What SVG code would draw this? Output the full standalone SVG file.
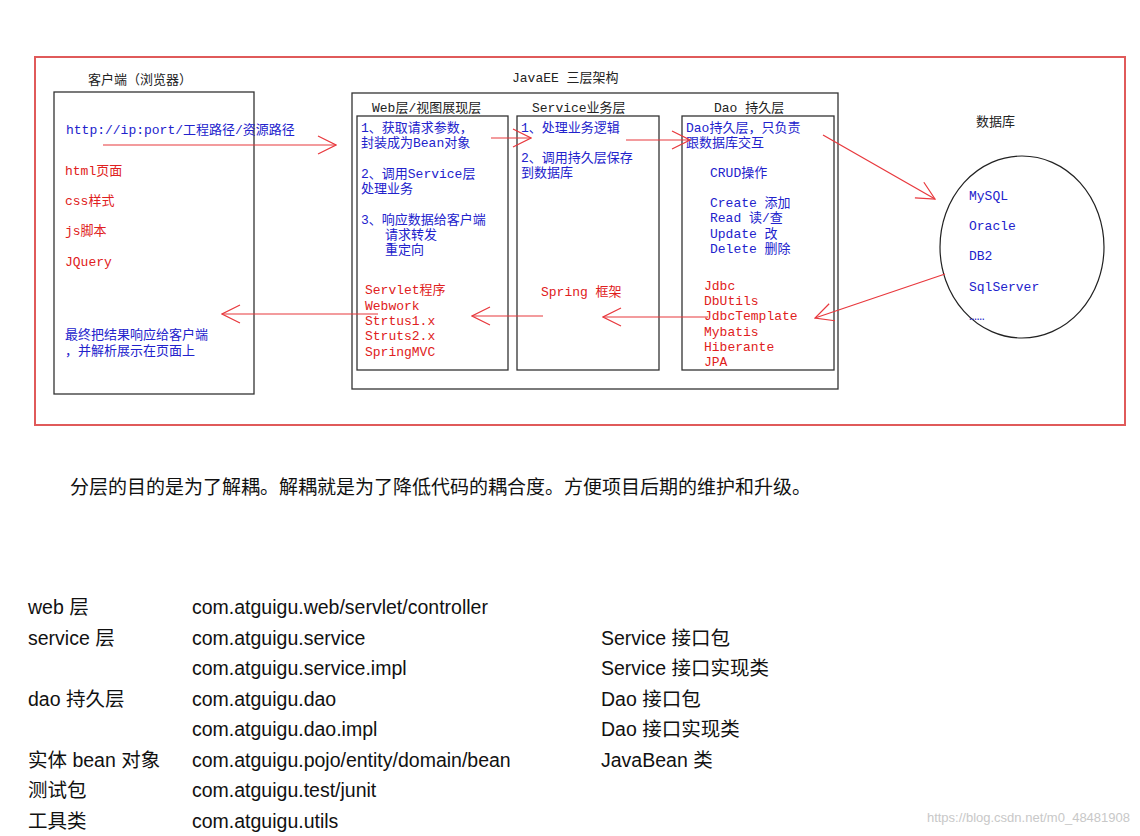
<svg xmlns="http://www.w3.org/2000/svg" width="1140" height="836" viewBox="0 0 1140 836">
<defs>
<marker id="chev" viewBox="0 0 20 20" refX="19" refY="10" markerWidth="20" markerHeight="20" markerUnits="userSpaceOnUse" orient="auto">
<path d="M1,1 L19,10 L1,19" fill="none" stroke="#e8383d" stroke-width="1.2"/>
</marker>
</defs>
<style>
.box{fill:none;stroke:#333;stroke-width:1.3}
.t{font-family:"Liberation Mono","Noto Sans CJK SC",monospace;font-size:13px}
.b{fill:#2222cc}.r{fill:#e02020}.k{fill:#222}
.c{stroke:#e8383d;stroke-width:1.2;fill:none;marker-end:url(#chev)}
.p{font-family:"Liberation Sans","Noto Sans CJK SC",sans-serif;font-size:19.5px;fill:#111}
</style>
<rect width="1140" height="836" fill="#fff"/>
<rect x="35" y="57" width="1090" height="368" fill="none" stroke="#e05a5a" stroke-width="2"/>
<g id="client">
<text x="88" y="84" class="t k">客户端（浏览器）</text>
<rect x="54" y="92" width="200" height="302" class="box"/>
<text x="66" y="134" class="t b">http://ip:port/工程路径/资源路径</text>
<text x="65" y="175" class="t r">html页面</text>
<text x="65" y="205" class="t r">css样式</text>
<text x="65" y="235" class="t r">js脚本</text>
<text x="65" y="266" class="t r">JQuery</text>
<text x="65" y="339" class="t b">最终把结果响应给客户端</text>
<text x="65" y="355" class="t b">，并解析展示在页面上</text>
</g>
<g id="javaee">
<text x="512" y="82" class="t k">JavaEE 三层架构</text>
<rect x="352" y="93" width="486" height="296" class="box"/>
</g>
<g id="web">
<text x="372" y="112" class="t k">Web层/视图展现层</text>
<rect x="357" y="116" width="151" height="254" class="box"/>
<text x="361" y="132" class="t b">1、获取请求参数，</text>
<text x="361" y="147" class="t b">封装成为Bean对象</text>
<text x="361" y="178" class="t b">2、调用Service层</text>
<text x="361" y="193" class="t b">处理业务</text>
<text x="361" y="224" class="t b">3、响应数据给客户端</text>
<text x="385" y="239" class="t b">请求转发</text>
<text x="385" y="254" class="t b">重定向</text>
<text x="365" y="294" class="t r">Servlet程序</text>
<text x="365" y="310" class="t r">Webwork</text>
<text x="365" y="325" class="t r">Strtus1.x</text>
<text x="365" y="340" class="t r">Struts2.x</text>
<text x="365" y="356" class="t r">SpringMVC</text>
</g>
<g id="service">
<text x="532" y="112" class="t k">Service业务层</text>
<rect x="517" y="116" width="142" height="254" class="box"/>
<text x="521" y="132" class="t b">1、处理业务逻辑</text>
<text x="521" y="162" class="t b">2、调用持久层保存</text>
<text x="521" y="177" class="t b">到数据库</text>
<text x="541" y="296" class="t r">Spring 框架</text>
</g>
<g id="dao">
<text x="714" y="112" class="t k">Dao 持久层</text>
<rect x="682" y="116" width="152" height="254" class="box"/>
<text x="686" y="132" class="t b">Dao持久层，只负责</text>
<text x="686" y="147" class="t b">跟数据库交互</text>
<text x="710" y="177" class="t b">CRUD操作</text>
<text x="710" y="207" class="t b">Create 添加</text>
<text x="710" y="222" class="t b">Read  读/查</text>
<text x="710" y="238" class="t b">Update 改</text>
<text x="710" y="253" class="t b">Delete 删除</text>
<text x="704" y="290" class="t r">Jdbc</text>
<text x="704" y="305" class="t r">DbUtils</text>
<text x="704" y="320" class="t r">JdbcTemplate</text>
<text x="704" y="336" class="t r">Mybatis</text>
<text x="704" y="351" class="t r">Hiberante</text>
<text x="704" y="366" class="t r">JPA</text>
</g>
<g id="db">
<text x="976" y="126" class="t k">数据库</text>
<ellipse cx="1022" cy="247" rx="82" ry="91" fill="none" stroke="#222" stroke-width="1.2"/>
<text x="969" y="200" class="t b">MySQL</text>
<text x="969" y="230" class="t b">Oracle</text>
<text x="969" y="260" class="t b">DB2</text>
<text x="969" y="291" class="t b">SqlServer</text>
<text x="969" y="320" class="t b">……</text>
</g>
<g id="connectors">
<line x1="103" y1="145" x2="336" y2="145" class="c"/>
<line x1="491" y1="138" x2="531" y2="138" class="c"/>
<line x1="626" y1="140" x2="690" y2="140" class="c"/>
<line x1="823" y1="135" x2="935" y2="199" class="c"/>
<line x1="945" y1="274" x2="815" y2="318" class="c"/>
<line x1="708" y1="317" x2="603" y2="317" class="c"/>
<line x1="543" y1="316" x2="472" y2="316" class="c"/>
<line x1="378" y1="314" x2="222" y2="314" class="c"/>
</g>
<text x="70" y="494" font-family="Liberation Serif,'Noto Sans CJK SC',serif" font-size="19" fill="#111">分层的目的是为了解耦。解耦就是为了降低代码的耦合度。方便项目后期的维护和升级。</text>
<g id="table">
<text x="28" y="614" class="p">web 层</text><text x="192" y="614" class="p">com.atguigu.web/servlet/controller</text>
<text x="28" y="645" class="p">service 层</text><text x="192" y="645" class="p">com.atguigu.service</text><text x="601" y="645" class="p">Service 接口包</text>
<text x="192" y="675" class="p">com.atguigu.service.impl</text><text x="601" y="675" class="p">Service 接口实现类</text>
<text x="28" y="706" class="p">dao 持久层</text><text x="192" y="706" class="p">com.atguigu.dao</text><text x="601" y="706" class="p">Dao 接口包</text>
<text x="192" y="736" class="p">com.atguigu.dao.impl</text><text x="601" y="736" class="p">Dao 接口实现类</text>
<text x="28" y="767" class="p">实体 bean 对象</text><text x="192" y="767" class="p">com.atguigu.pojo/entity/domain/bean</text><text x="601" y="767" class="p">JavaBean 类</text>
<text x="28" y="797" class="p">测试包</text><text x="192" y="797" class="p">com.atguigu.test/junit</text>
<text x="28" y="828" class="p">工具类</text><text x="192" y="828" class="p">com.atguigu.utils</text>
</g>
<text x="1130" y="822" text-anchor="end" font-family="Liberation Sans,sans-serif" font-size="13" fill="#c8c8c8">https://blog.csdn.net/m0_48481908</text>
</svg>
